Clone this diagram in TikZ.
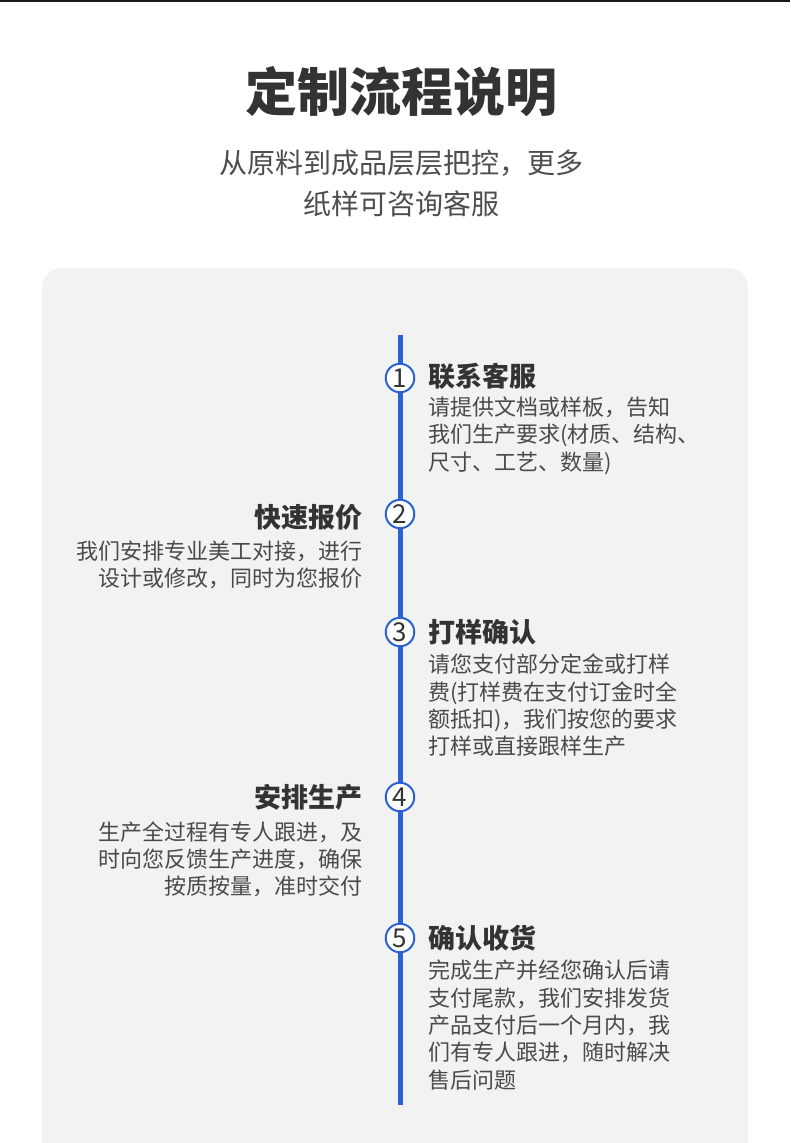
\documentclass[tikz,border=0pt]{standalone}
\usepackage{fontspec}
\setmainfont{Noto Sans CJK SC}
\definecolor{tlblue}{HTML}{2A62D6}
\definecolor{panelgray}{HTML}{F2F2F2}
\definecolor{titlegray}{HTML}{333333}
\definecolor{subgray}{HTML}{4D4D4D}
\definecolor{bodygray}{HTML}{4A4A4A}
\tikzset{
  bigtitle/.style={inner sep=0, anchor=base, text=titlegray, font=\fontsize{52}{60}\selectfont\bfseries},
  subtitle/.style={inner sep=0, anchor=base, text=subgray, font=\fontsize{28}{34}\selectfont},
  steptitle/.style={inner sep=0, text=titlegray, font=\fontsize{27}{32}\selectfont\bfseries},
  bodyline/.style={inner sep=0, text=bodygray, font=\fontsize{22}{27}\selectfont},
  numcircle/.style={circle, draw=tlblue, line width=2pt, fill=white, minimum size=28.5pt, inner sep=0, text=titlegray, font=\fontsize{26}{28}\selectfont},
}
\begin{document}
\begin{tikzpicture}[x=1pt,y=-1pt]
\useasboundingbox (0,0) rectangle (790,1143);
\fill[white] (0,0) rectangle (790,1143);
\fill[black!90] (0,0) rectangle (790,2);
\fill[panelgray, rounded corners=20pt] (42,268) rectangle (748,1180);
% header
\node[bigtitle] (title) at (401,111.8) {定制流程说明};
\node[subtitle] (sub1) at (401,173.6) {从原料到成品层层把控，更多};
\node[subtitle] (sub2) at (401,214.6) {纸样可咨询客服};
% timeline
\coordinate (ltop) at (400,335);
\coordinate (lbot) at (400,1105);
\draw[tlblue, line width=5pt] (ltop) -- (lbot);
\node[numcircle] (c1) at (400,378) {1};
\node[numcircle] (c2) at (400,514) {2};
\node[numcircle] (c3) at (400,632) {3};
\node[numcircle] (c4) at (400,797) {4};
\node[numcircle] (c5) at (400,938) {5};
% step 1
\node[steptitle, anchor=base west] (t1) at (428,386.3) {联系客服};
\foreach \t [count=\i] in {{请提供文档或样板，告知},{我们生产要求(材质、结构、},{尺寸、工艺、数量)}}
  \node[bodyline, anchor=base west] (b1-\i) at (428,{415.4+(\i-1)*27.3}) {\t};
% step 2
\node[steptitle, anchor=base east] (t2) at (363,527.3) {快速报价};
\foreach \t [count=\i] in {{我们安排专业美工对接，进行},{设计或修改，同时为您报价}}
  \node[bodyline, anchor=base east] (b2-\i) at (363,{559.4+(\i-1)*27.3}) {\t};
% step 3
\node[steptitle, anchor=base west] (t3) at (428,642.3) {打样确认};
\foreach \t [count=\i] in {{请您支付部分定金或打样},{费(打样费在支付订金时全},{额抵扣)，我们按您的要求},{打样或直接跟样生产}}
  \node[bodyline, anchor=base west] (b3-\i) at (428,{672.9+(\i-1)*27.2}) {\t};
% step 4
\node[steptitle, anchor=base east] (t4) at (363,807.8) {安排生产};
\foreach \t [count=\i] in {{生产全过程有专人跟进，及},{时向您反馈生产进度，确保},{按质按量，准时交付}}
  \node[bodyline, anchor=base east] (b4-\i) at (363,{840.4+(\i-1)*27.2}) {\t};
% step 5
\node[steptitle, anchor=base west] (t5) at (428,948.3) {确认收货};
\foreach \t [count=\i] in {{完成生产并经您确认后请},{支付尾款，我们安排发货},{产品支付后一个月内，我},{们有专人跟进，随时解决},{售后问题}}
  \node[bodyline, anchor=base west] (b5-\i) at (428,{978.9+(\i-1)*27.3}) {\t};
\end{tikzpicture}
\end{document}
